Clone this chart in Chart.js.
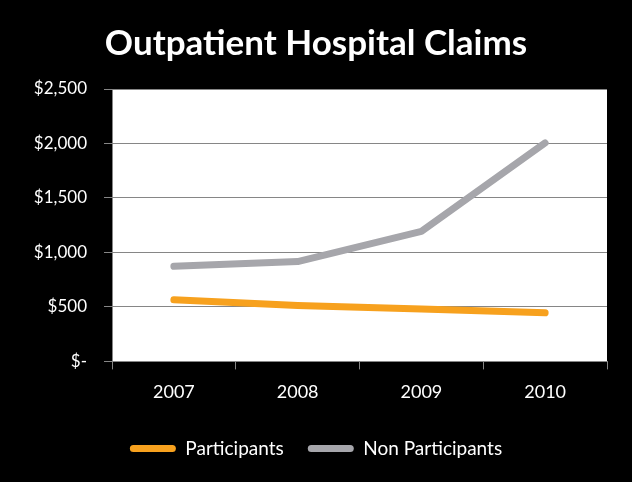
<!DOCTYPE html>
<html>
<head>
<meta charset="utf-8">
<script src="https://cdn.jsdelivr.net/npm/chart.js@4"></script>
<style>
  html, body { margin: 0; padding: 0; background: #000; }
  #wrap { width: 632px; height: 482px; }
</style>
</head>
<body>
<div id="wrap"><canvas id="c" width="632" height="482"></canvas></div>
<script>
const categories = ['2007', '2008', '2009', '2010'];
const participants = [565, 513, 481, 446];
const nonParticipants = [873, 916, 1193, 2005];
const yTicks = [0, 500, 1000, 1500, 2000, 2500];

const plotBg = {
  id: 'plotBg',
  beforeDraw(chart) {
    const { ctx, chartArea: a } = chart;
    ctx.save();
    ctx.fillStyle = '#ffffff';
    ctx.fillRect(a.left, a.top, a.right - a.left, a.bottom - a.top);
    ctx.restore();
  }
};

const fmt = v => v === 0 ? '$-' : '$' + v.toLocaleString('en-US');

new Chart(document.getElementById('c'), {
  type: 'line',
  data: {
    labels: categories,
    datasets: [
      { label: 'Participants', data: participants, borderColor: '#F7A11E', backgroundColor: '#F7A11E',
        borderWidth: 7, pointRadius: 0, tension: 0, borderCapStyle: 'round', borderJoinStyle: 'round' },
      { label: 'Non Participants', data: nonParticipants, borderColor: '#A6A6AB', backgroundColor: '#A6A6AB',
        borderWidth: 7, pointRadius: 0, tension: 0, borderCapStyle: 'round', borderJoinStyle: 'round' }
    ]
  },
  options: {
    responsive: false,
    animation: false,
    devicePixelRatio: 1,
    layout: { padding: { left: 0, right: 0, top: 0, bottom: 14 } },
    plugins: {
      title: {
        display: true,
        text: 'Outpatient Hospital Claims',
        color: '#ffffff',
        font: { family: 'Lato', size: 35, weight: 'bold', lineHeight: 1.2 },
        padding: { top: 23, bottom: 24 }
      },
      legend: {
        position: 'bottom',
        labels: {
          color: '#ffffff',
          font: { family: 'Lato', size: 19 },
          boxWidth: 46,
          boxHeight: 7,
          useBorderRadius: true,
          borderRadius: 3.5,
          padding: 24,
          generateLabels(chart) {
            return chart.data.datasets.map((d, i) => ({
              text: d.label, fillStyle: d.borderColor, strokeStyle: d.borderColor,
              lineWidth: 0, fontColor: '#ffffff', datasetIndex: i, borderRadius: 3.5, hidden: false
            }));
          }
        }
      },
      tooltip: { enabled: false }
    },
    scales: {
      x: {
        offset: true,
        grid: { display: true, drawOnChartArea: false, drawTicks: true, tickLength: 8, color: '#868686', offset: true },
        border: { display: true, color: '#868686', width: 1 },
        ticks: { color: '#ffffff', font: { family: 'Lato', size: 18 }, padding: 12 }
      },
      y: {
        min: 0, max: 2500,
        afterBuildTicks(scale) { scale.ticks = yTicks.map(v => ({ value: v })); },
        afterFit(scale) { scale.width = 112; },
        grid: { color: '#868686', tickLength: 8, lineWidth: 1 },
        border: { display: true, color: '#868686', width: 1 },
        ticks: { color: '#ffffff', font: { family: 'Lato', size: 17 }, padding: 17, callback: v => fmt(v) }
      },
      yRight: {
        position: 'right',
        display: true,
        min: 0, max: 2500,
        afterFit(scale) { scale.width = 25; },
        grid: { display: false },
        border: { display: false },
        ticks: { display: false }
      }
    }
  },
  plugins: [plotBg]
});
</script>
</body>
</html>
